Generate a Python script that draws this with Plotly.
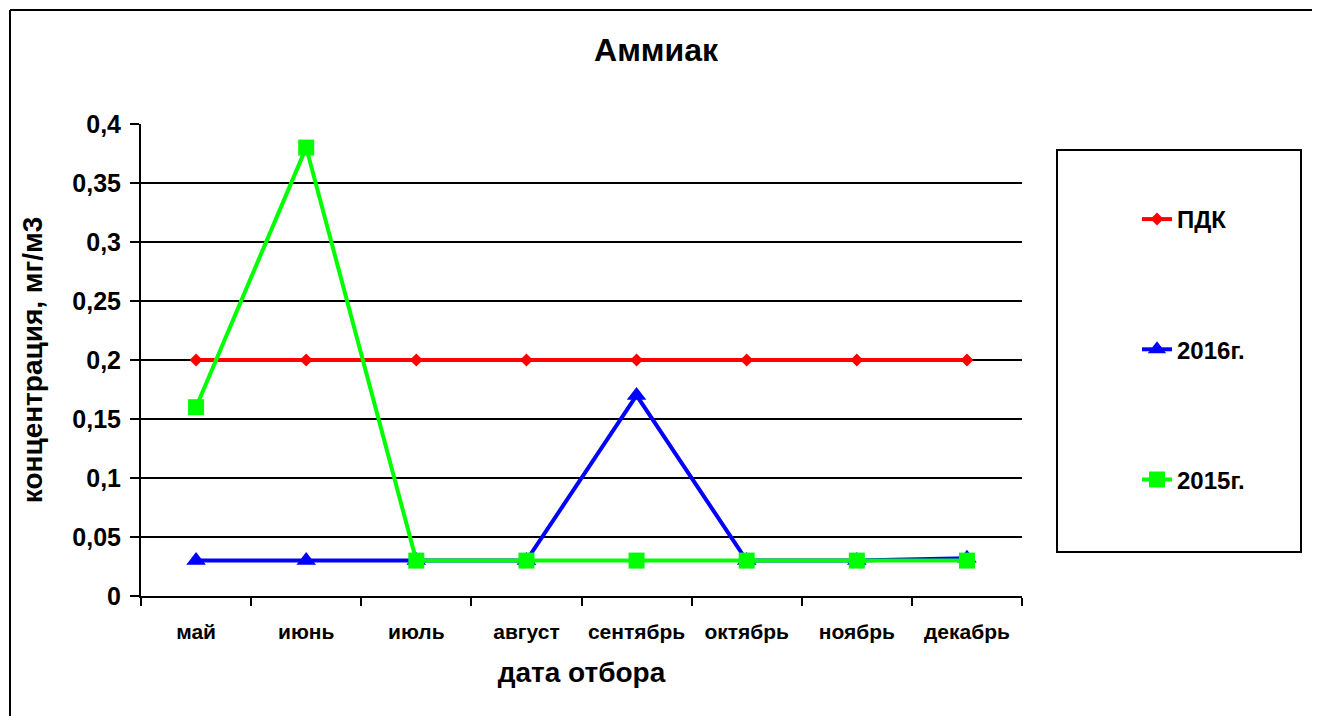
import plotly.graph_objects as go

months = ["май", "июнь", "июль", "август", "сентябрь", "октябрь", "ноябрь", "декабрь"]
pdk = [0.2, 0.2, 0.2, 0.2, 0.2, 0.2, 0.2, 0.2]
y2016 = [0.03, 0.03, 0.03, 0.03, 0.17, 0.03, 0.03, 0.032]
y2015 = [0.16, 0.38, 0.03, 0.03, 0.03, 0.03, 0.03, 0.03]
yticks = [0, 0.05, 0.1, 0.15, 0.2, 0.25, 0.3, 0.35, 0.4]

FONT = "Liberation Sans, Arial, sans-serif"

# page body has an 8px default margin; work in reference pixel coords minus 8
OFF = 8
L, R, T, B = 141 - OFF, 1022 - OFF, 124 - OFF, 596 - OFF
W, H = 1320 - 2 * OFF, 724 - 2 * OFF   # keep the page free of scrollbars
pw, ph = R - L, B - T


def px(x):
    return (x - OFF - L) / pw


def py(y):
    return (B - (y - OFF)) / ph


fig = go.Figure()
fig.add_trace(go.Scatter(x=months, y=pdk, name="ПДК", mode="lines+markers",
                         legendgroup="a",
                         line=dict(color="#FF0000", width=4),
                         marker=dict(symbol="diamond", size=10, color="#FF0000")))
fig.add_trace(go.Scatter(x=months, y=y2016, name="2016г.", mode="lines+markers",
                         legendgroup="b",
                         line=dict(color="#0000FF", width=4),
                         marker=dict(symbol="triangle-up", size=17, color="#0000FF")))
fig.add_trace(go.Scatter(x=months, y=y2015, name="2015г.", mode="lines+markers",
                         legendgroup="c",
                         line=dict(color="#00FF00", width=4),
                         marker=dict(symbol="square", size=16, color="#00FF00")))

fig.update_layout(
    width=W, height=H,
    margin=dict(l=L, r=W - R, t=T, b=H - B),
    paper_bgcolor="white", plot_bgcolor="white",
    separators=", ",
    font=dict(family=FONT, color="black"),
    title=dict(text="<b>Аммиак</b>", x=(656 - OFF) / W, xanchor="center",
               y=1 - (50 - OFF) / H, yanchor="middle", yref="container",
               font=dict(size=32, family=FONT, color="black")),
    xaxis=dict(
        type="category", range=[-0.5, 7.5],
        showline=True, linecolor="black", linewidth=2,
        ticks="outside", tickson="boundaries", ticklen=8, tickwidth=2, tickcolor="black",
        showgrid=False,
        tickfont=dict(size=21, family=FONT, color="black", weight="bold"),
        ticklabelstandoff=16,
        title=dict(text="<b>дата отбора</b>", font=dict(size=28, family=FONT, color="black"),
                   standoff=20),
    ),
    yaxis=dict(
        range=[0, 0.4], tickvals=yticks,
        showline=True, linecolor="black", linewidth=2,
        ticks="outside", ticklen=9, tickwidth=2, tickcolor="black",
        showgrid=True, gridcolor="black", gridwidth=2,
        zeroline=False,
        tickfont=dict(size=25, family=FONT, color="black", weight="bold"),
        ticklabelstandoff=4,
        title=dict(text="<b>концентрация, мг/м3</b>", font=dict(size=28, family=FONT, color="black"),
                   standoff=22),
    ),
    legend=dict(
        x=px(1137), xanchor="left", y=py(197), yanchor="top",
        bgcolor="rgba(0,0,0,0)", borderwidth=0,
        tracegroupgap=96,
        font=dict(size=24, family=FONT, color="black", weight="bold"),
    ),
    shapes=[
        # outer chart border: only left and top edges are visible in the frame
        dict(type="line", xref="paper", yref="paper",
             x0=px(10), x1=px(10), y0=py(735), y1=py(10),
             line=dict(color="black", width=2), layer="below"),
        dict(type="line", xref="paper", yref="paper",
             x0=px(10), x1=px(1330), y0=py(10), y1=py(10),
             line=dict(color="black", width=2), layer="below"),
        # legend box
        dict(type="rect", xref="paper", yref="paper",
             x0=px(1057), x1=px(1301), y0=py(552), y1=py(150),
             line=dict(color="black", width=2), fillcolor="rgba(0,0,0,0)", layer="below"),
    ],
)

fig.write_html("out.html")
